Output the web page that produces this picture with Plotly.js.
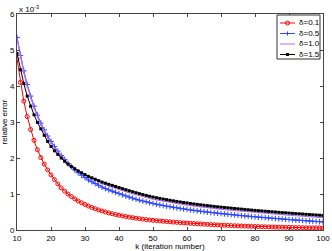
<!DOCTYPE html>
<html><head><meta charset="utf-8">
<script src="https://cdn.plot.ly/plotly-3.0.1.min.js"></script>
<style>html,body{margin:0;padding:0;background:#fff}#c{width:332px;height:251px}</style>
</head><body><div id="c"></div>
<script>
var k = [10,11,12,13,14,15,16,17,18,19,20,21,22,23,24,25,26,27,28,29,30,31,32,33,34,35,36,37,38,39,40,41,42,43,44,45,46,47,48,49,50,51,52,53,54,55,56,57,58,59,60,61,62,63,64,65,66,67,68,69,70,71,72,73,74,75,76,77,78,79,80,81,82,83,84,85,86,87,88,89,90,91,92,93,94,95,96,97,98,99,100];
var err_d01 = [4.75,4.10,3.58,3.15,2.79,2.49,2.23,2.01,1.83,1.67,
1.53,1.40,1.28,1.17,1.08,1.00,0.93,0.865,0.807,0.755,
0.709,0.665,0.626,0.591,0.558,0.528,0.501,0.475,0.452,0.430,
0.410,0.391,0.374,0.357,0.342,0.328,0.314,0.302,0.290,0.279,
0.268,0.260,0.251,0.243,0.235,0.227,0.220,0.213,0.206,0.199,
0.192,0.186,0.180,0.174,0.168,0.162,0.156,0.150,0.145,0.140,
0.135,0.131,0.127,0.123,0.119,0.115,0.111,0.108,0.105,0.101,
0.098,0.095,0.092,0.089,0.087,0.084,0.082,0.079,0.077,0.075,
0.073,0.071,0.069,0.067,0.065,0.063,0.061,0.060,0.058,0.057,
0.055];
var err_d05 = [5.35,4.85,4.42,4.04,3.72,3.44,3.19,2.97,2.78,2.61,
2.46,2.32,2.19,2.07,1.96,1.85,1.76,1.67,1.59,1.52,
1.455,1.39,1.34,1.29,1.24,1.19,1.15,1.115,1.08,1.045,
1.01,0.977,0.945,0.914,0.884,0.855,0.829,0.804,0.780,0.757,
0.735,0.716,0.698,0.680,0.663,0.646,0.630,0.614,0.599,0.584,
0.570,0.557,0.544,0.532,0.520,0.508,0.497,0.486,0.475,0.465,
0.455,0.445,0.436,0.427,0.418,0.409,0.400,0.391,0.382,0.373,
0.365,0.357,0.349,0.341,0.334,0.326,0.319,0.311,0.304,0.297,
0.290,0.283,0.276,0.270,0.263,0.256,0.250,0.244,0.237,0.231,
0.225];
var err_d10 = [5.32,4.81,4.38,4.00,3.68,3.40,3.15,2.93,2.74,2.57,
2.42,2.28,2.16,2.05,1.95,1.85,1.765,1.69,1.625,1.57,
1.515,1.465,1.42,1.38,1.335,1.295,1.26,1.225,1.19,1.16,
1.13,1.098,1.067,1.037,1.008,0.980,0.953,0.927,0.902,0.878,
0.855,0.836,0.818,0.800,0.783,0.766,0.750,0.734,0.719,0.704,
0.690,0.677,0.664,0.652,0.640,0.628,0.617,0.606,0.595,0.585,
0.575,0.565,0.556,0.547,0.538,0.529,0.520,0.511,0.502,0.493,
0.485,0.477,0.469,0.461,0.454,0.446,0.439,0.431,0.424,0.417,
0.410,0.403,0.396,0.390,0.383,0.376,0.370,0.364,0.357,0.351,
0.345];
var err_d15 = [4.90,4.45,4.07,3.72,3.44,3.20,2.99,2.81,2.63,2.46,
2.32,2.20,2.10,2.00,1.91,1.83,1.76,1.70,1.64,1.59,
1.54,1.49,1.45,1.41,1.37,1.33,1.30,1.27,1.24,1.21,
1.18,1.149,1.119,1.090,1.062,1.035,1.009,0.984,0.960,0.937,
0.915,0.896,0.878,0.860,0.843,0.826,0.810,0.794,0.779,0.764,
0.750,0.737,0.724,0.712,0.700,0.688,0.677,0.666,0.655,0.645,
0.635,0.625,0.616,0.607,0.598,0.589,0.580,0.571,0.562,0.553,
0.545,0.537,0.529,0.521,0.514,0.506,0.499,0.491,0.484,0.477,
0.470,0.463,0.456,0.450,0.443,0.436,0.430,0.424,0.417,0.411,
0.405];
var names = ["δ=0.1","δ=0.5","δ=1.0","δ=1.5"];
var colors = ["#ff0000","#2a46ff","#bb66ff","#000000"];
var xTicks = [10,20,30,40,50,60,70,80,90,100];
var yTicks = [0,1,2,3,4,5,6];

var F = "Liberation Sans, Arial, sans-serif";
var W = 332, H = 251, ML = 17, MR = 9, MT = 14, MB = 21;
var PW = W - ML - MR, PH = H - MT - MB;
function px(xp){ return (xp - ML) / PW; }
function py(yp){ return (H - MB - yp) / PH; }

var traces = [
 {x:k, y:err_d01, name:names[0], type:"scatter", mode:"lines+markers",
  line:{color:colors[0], width:1}, marker:{symbol:"circle-open", size:4, color:colors[0], line:{width:1}}},
 {x:k, y:err_d05, name:names[1], type:"scatter", mode:"lines+markers",
  line:{color:colors[1], width:1}, marker:{symbol:"cross-thin-open", size:4, color:colors[1], line:{width:1, color:colors[1]}}},
 {x:k, y:err_d10, name:names[2], type:"scatter", mode:"lines",
  line:{color:colors[2], width:1.2}},
 {x:k, y:err_d15, name:names[3], type:"scatter", mode:"lines+markers",
  line:{color:colors[3], width:1}, marker:{symbol:"square", size:3, color:colors[3]}}
];

// custom compact legend (MATLAB style)
var shapes = [], annotations = [];
var lx0 = 277, lx1 = 320, ly0 = 15, ly1 = 59;
shapes.push({type:"rect", xref:"paper", yref:"paper", x0:px(lx0), x1:px(lx1), y0:py(ly1), y1:py(ly0),
  line:{color:"#333", width:1}, fillcolor:"#fff", layer:"above"});
var rows = [23, 33.5, 44, 54.5];
for (var i = 0; i < 4; i++) {
  var yy = rows[i];
  shapes.push({type:"line", xref:"paper", yref:"paper", x0:px(280), x1:px(295), y0:py(yy), y1:py(yy),
    line:{color:colors[i], width:1}, layer:"above"});
  if (i === 0) shapes.push({type:"circle", xref:"paper", yref:"paper", x0:px(285.5), x1:px(289.5), y0:py(yy+2), y1:py(yy-2),
    line:{color:colors[0], width:1}, fillcolor:"rgba(0,0,0,0)", layer:"above"});
  if (i === 1) {
    shapes.push({type:"line", xref:"paper", yref:"paper", x0:px(287.5), x1:px(287.5), y0:py(yy+2), y1:py(yy-2),
      line:{color:colors[1], width:1}, layer:"above"});
  }
  if (i === 3) shapes.push({type:"rect", xref:"paper", yref:"paper", x0:px(286), x1:px(289), y0:py(yy+1.5), y1:py(yy-1.5),
    line:{color:colors[3], width:0}, fillcolor:colors[3], layer:"above"});
  annotations.push({xref:"paper", yref:"paper", x:px(296.5), y:py(yy), xanchor:"left", yanchor:"middle",
    showarrow:false, text:names[i], font:{family:F, size:8, color:"#000"}});
}
annotations.push({xref:"paper", yref:"paper", x:0, y:1, xanchor:"left", yanchor:"bottom", showarrow:false,
    text:"x 10<sup>-3</sup>", font:{family:F, size:8, color:"#000"}, yshift:-2});

var axBase = {showgrid:false, zeroline:false, showline:true, linecolor:"#444", linewidth:1,
  mirror:"ticks", ticks:"inside", ticklen:3, tickcolor:"#444", tickfont:{family:F, size:8, color:"#000"}};
var layout = {
  width:W, height:H, paper_bgcolor:"#fff", plot_bgcolor:"#fff",
  margin:{l:ML, r:MR, t:MT, b:MB},
  showlegend:false,
  xaxis:Object.assign({}, axBase, {range:[10,100], tickvals:xTicks, ticktext:xTicks.map(String),
    title:{text:"k (iteration number)", font:{family:F, size:8, color:"#000"}, standoff:1}}),
  yaxis:Object.assign({}, axBase, {range:[0,6], tickvals:yTicks, ticktext:yTicks.map(String),
    title:{text:"relative error", font:{family:F, size:8, color:"#000"}, standoff:2}}),
  shapes:shapes,
  annotations:annotations
};
Plotly.newPlot("c", traces, layout, {displayModeBar:false, staticPlot:true});
</script></body></html>
